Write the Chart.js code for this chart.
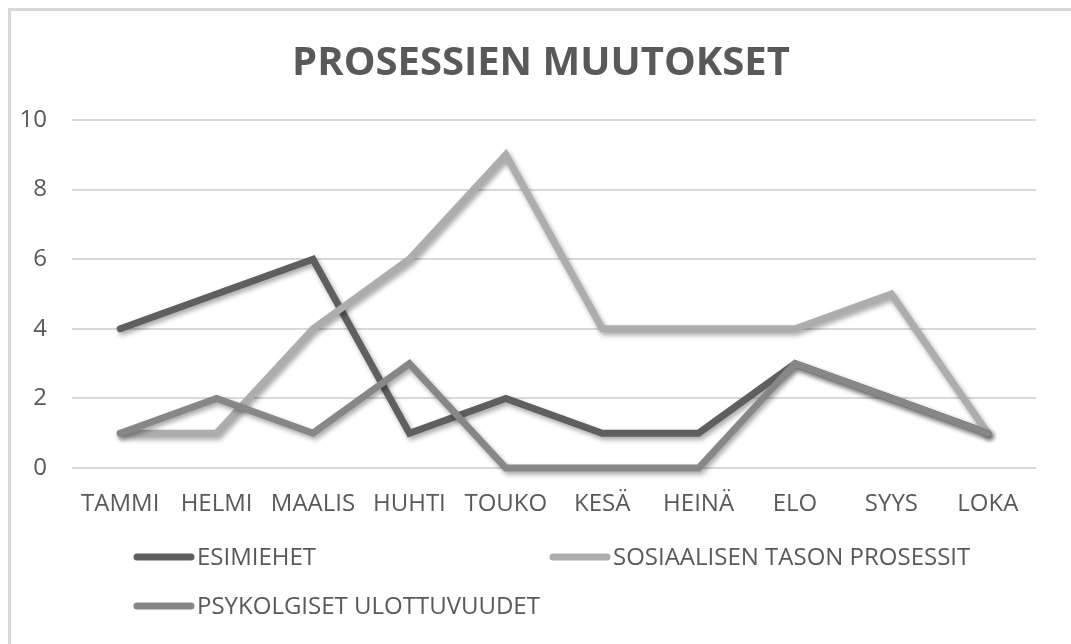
<!DOCTYPE html>
<html>
<head>
<meta charset="utf-8">
<script src="https://cdn.jsdelivr.net/npm/chart.js@4"></script>
<style>
  html, body { margin: 0; padding: 0; background: #fff; }
  #frame {
    position: absolute; left: 8px; top: 8px; width: 1100px; height: 700px;
    border-left: 3px solid #d9d9d9; border-top: 3px solid #d9d9d9;
  }
  #wrap { position: absolute; left: 0; top: 0; width: 1071px; height: 644px; }
</style>
</head>
<body>
<div id="frame"></div>
<div id="wrap"><canvas id="chart"></canvas></div>
<script>
// data
const months = ['TAMMI', 'HELMI', 'MAALIS', 'HUHTI', 'TOUKO', 'KESÄ', 'HEINÄ', 'ELO', 'SYYS', 'LOKA'];
const seriesNames = ['ESIMIEHET', 'SOSIAALISEN TASON PROSESSIT', 'PSYKOLGISET ULOTTUVUUDET'];
const esimiehet = [4, 5, 6, 1, 2, 1, 1, 3, 2, 1];
const sosiaalinen = [1, 1, 4, 6, 9, 4, 4, 4, 5, 1];
const psykologiset = [1, 2, 1, 3, 0, 0, 0, 3, 2, 1];
const yTicks = [0, 2, 4, 6, 8, 10];

const textColor = '#595959';
const fontFamily = '"Open Sans", "Liberation Sans", sans-serif';
const colors = ['#5f5f5f', '#adadad', '#878787'];

function lineSet(label, data, color, order) {
  return {
    label: label,
    data: data,
    borderColor: color,
    backgroundColor: color,
    borderWidth: 7,
    pointRadius: 0,
    pointHoverRadius: 0,
    tension: 0,
    borderCapStyle: 'round',
    borderJoinStyle: 'miter',
    clip: false,
    order: order
  };
}

// soft drop shadow under the lines, like the office chart
const shadowPlugin = {
  id: 'shadow',
  beforeDatasetsDraw(chart) {
    const c = chart.ctx;
    c.save();
    c.shadowColor = 'rgba(0,0,0,0.35)';
    c.shadowBlur = 5;
    c.shadowOffsetX = 2;
    c.shadowOffsetY = 3;
  },
  afterDatasetsDraw(chart) {
    chart.ctx.restore();
  }
};

// two-column legend under the plot
const legendPlugin = {
  id: 'sideLegend',
  afterDraw(chart) {
    const c = chart.ctx;
    const cols = [137, 553];
    const rows = [557, 606];
    c.save();
    chart.data.datasets.forEach((ds, i) => {
      const x = cols[i % 2];
      const y = rows[Math.floor(i / 2)];
      c.strokeStyle = ds.borderColor;
      c.lineWidth = 7;
      c.lineCap = 'round';
      c.beginPath();
      c.moveTo(x, y);
      c.lineTo(x + 54, y);
      c.stroke();
      c.fillStyle = textColor;
      c.font = '24px ' + fontFamily;
      c.textBaseline = 'middle';
      c.textAlign = 'left';
      c.fillText(ds.label, x + 60, y + 1);
    });
    c.restore();
  }
};

new Chart(document.getElementById('chart'), {
  type: 'line',
  data: {
    labels: months,
    datasets: [
      lineSet(seriesNames[0], esimiehet, colors[0], 3),
      lineSet(seriesNames[1], sosiaalinen, colors[1], 2),
      lineSet(seriesNames[2], psykologiset, colors[2], 1)
    ]
  },
  options: {
    responsive: true,
    maintainAspectRatio: false,
    animation: false,
    layout: { padding: { left: 11, right: 0, top: 0, bottom: 0 } },
    plugins: {
      legend: { display: false },
      tooltip: { enabled: false },
      title: {
        display: true,
        text: 'PROSESSIEN MUUTOKSET',
        color: textColor,
        font: { family: fontFamily, size: 40, weight: 'bold' },
        padding: { top: 40, bottom: 32 }
      }
    },
    scales: {
      x: {
        offset: true,
        grid: { display: false, drawTicks: false, offset: true },
        border: { display: false },
        ticks: {
          color: textColor,
          font: { family: fontFamily, size: 24 },
          padding: 22,
          maxRotation: 0,
          autoSkip: false
        },
        afterFit(scale) { scale.height = 176; }
      },
      y: {
        min: 0,
        max: 10,
        afterBuildTicks(scale) { scale.ticks = yTicks.map(v => ({ value: v })); },
        grid: { color: '#d9d9d9', lineWidth: 2, drawTicks: false },
        border: { display: false },
        ticks: {
          color: textColor,
          font: { family: fontFamily, size: 24 },
          padding: 25
        },
        afterFit(scale) { scale.width = 61; }
      },
      // empty right axis, only keeps the plot clear of the right edge
      spacer: {
        position: 'right',
        grid: { display: false, drawTicks: false },
        border: { display: false },
        ticks: { display: false },
        afterFit(scale) { scale.width = 35; }
      }
    }
  },
  plugins: [shadowPlugin, legendPlugin]
});
</script>
</body>
</html>
